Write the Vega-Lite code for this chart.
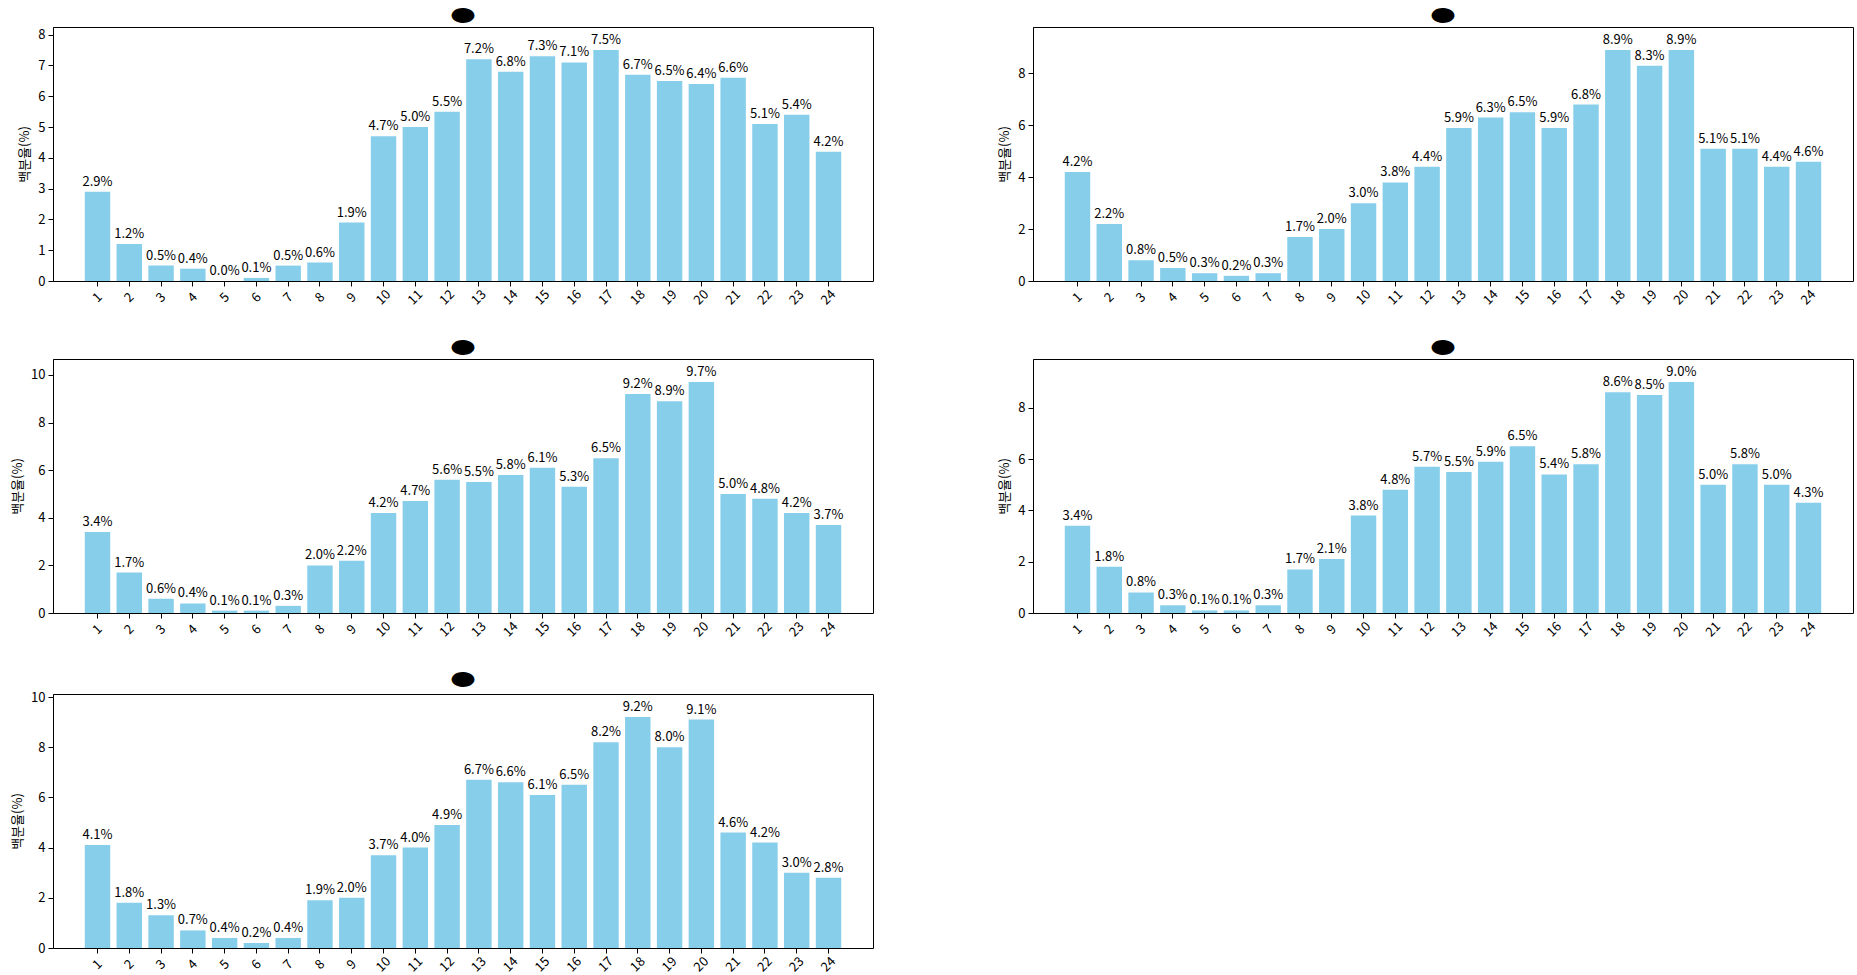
{
  "$schema": "https://vega.github.io/schema/vega-lite/v6.json",
  "padding": {"left": 11, "top": 2, "right": 0, "bottom": 0},
  "background": "white",
  "datasets": {
    "r1": [
      {"h": 1, "p": 0.029}, {"h": 2, "p": 0.012}, {"h": 3, "p": 0.005}, {"h": 4, "p": 0.004},
      {"h": 5, "p": 0.000}, {"h": 6, "p": 0.001}, {"h": 7, "p": 0.005}, {"h": 8, "p": 0.006},
      {"h": 9, "p": 0.019}, {"h": 10, "p": 0.047}, {"h": 11, "p": 0.050}, {"h": 12, "p": 0.055},
      {"h": 13, "p": 0.072}, {"h": 14, "p": 0.068}, {"h": 15, "p": 0.073}, {"h": 16, "p": 0.071},
      {"h": 17, "p": 0.075}, {"h": 18, "p": 0.067}, {"h": 19, "p": 0.065}, {"h": 20, "p": 0.064},
      {"h": 21, "p": 0.066}, {"h": 22, "p": 0.051}, {"h": 23, "p": 0.054}, {"h": 24, "p": 0.042}
    ],
    "r2": [
      {"h": 1, "p": 0.042}, {"h": 2, "p": 0.022}, {"h": 3, "p": 0.008}, {"h": 4, "p": 0.005},
      {"h": 5, "p": 0.003}, {"h": 6, "p": 0.002}, {"h": 7, "p": 0.003}, {"h": 8, "p": 0.017},
      {"h": 9, "p": 0.020}, {"h": 10, "p": 0.030}, {"h": 11, "p": 0.038}, {"h": 12, "p": 0.044},
      {"h": 13, "p": 0.059}, {"h": 14, "p": 0.063}, {"h": 15, "p": 0.065}, {"h": 16, "p": 0.059},
      {"h": 17, "p": 0.068}, {"h": 18, "p": 0.089}, {"h": 19, "p": 0.083}, {"h": 20, "p": 0.089},
      {"h": 21, "p": 0.051}, {"h": 22, "p": 0.051}, {"h": 23, "p": 0.044}, {"h": 24, "p": 0.046}
    ],
    "r3": [
      {"h": 1, "p": 0.034}, {"h": 2, "p": 0.017}, {"h": 3, "p": 0.006}, {"h": 4, "p": 0.004},
      {"h": 5, "p": 0.001}, {"h": 6, "p": 0.001}, {"h": 7, "p": 0.003}, {"h": 8, "p": 0.020},
      {"h": 9, "p": 0.022}, {"h": 10, "p": 0.042}, {"h": 11, "p": 0.047}, {"h": 12, "p": 0.056},
      {"h": 13, "p": 0.055}, {"h": 14, "p": 0.058}, {"h": 15, "p": 0.061}, {"h": 16, "p": 0.053},
      {"h": 17, "p": 0.065}, {"h": 18, "p": 0.092}, {"h": 19, "p": 0.089}, {"h": 20, "p": 0.097},
      {"h": 21, "p": 0.050}, {"h": 22, "p": 0.048}, {"h": 23, "p": 0.042}, {"h": 24, "p": 0.037}
    ],
    "r4": [
      {"h": 1, "p": 0.034}, {"h": 2, "p": 0.018}, {"h": 3, "p": 0.008}, {"h": 4, "p": 0.003},
      {"h": 5, "p": 0.001}, {"h": 6, "p": 0.001}, {"h": 7, "p": 0.003}, {"h": 8, "p": 0.017},
      {"h": 9, "p": 0.021}, {"h": 10, "p": 0.038}, {"h": 11, "p": 0.048}, {"h": 12, "p": 0.057},
      {"h": 13, "p": 0.055}, {"h": 14, "p": 0.059}, {"h": 15, "p": 0.065}, {"h": 16, "p": 0.054},
      {"h": 17, "p": 0.058}, {"h": 18, "p": 0.086}, {"h": 19, "p": 0.085}, {"h": 20, "p": 0.090},
      {"h": 21, "p": 0.050}, {"h": 22, "p": 0.058}, {"h": 23, "p": 0.050}, {"h": 24, "p": 0.043}
    ],
    "r5": [
      {"h": 1, "p": 0.041}, {"h": 2, "p": 0.018}, {"h": 3, "p": 0.013}, {"h": 4, "p": 0.007},
      {"h": 5, "p": 0.004}, {"h": 6, "p": 0.002}, {"h": 7, "p": 0.004}, {"h": 8, "p": 0.019},
      {"h": 9, "p": 0.020}, {"h": 10, "p": 0.037}, {"h": 11, "p": 0.040}, {"h": 12, "p": 0.049},
      {"h": 13, "p": 0.067}, {"h": 14, "p": 0.066}, {"h": 15, "p": 0.061}, {"h": 16, "p": 0.065},
      {"h": 17, "p": 0.082}, {"h": 18, "p": 0.092}, {"h": 19, "p": 0.080}, {"h": 20, "p": 0.091},
      {"h": 21, "p": 0.046}, {"h": 22, "p": 0.042}, {"h": 23, "p": 0.030}, {"h": 24, "p": 0.028}
    ]
  },
  "columns": 2,
  "spacing": {"row": 26, "column": 124},
  "concat": [
    {
      "width": 820, "height": 254,
      "data": {"name": "r1"},
      "title": {"text": "⬬"},
      "encoding": {
        "x": {"field": "h", "type": "ordinal", "scale": {"paddingInner": 0.2, "paddingOuter": 1.19}, "axis": {"title": null}},
        "y": {"field": "p", "type": "quantitative", "scale": {"domain": [0, 0.0825], "nice": false},
              "axis": {"title": "백분율(%)", "values": [0, 0.01, 0.02, 0.03, 0.04, 0.05, 0.06, 0.07, 0.08], "labelExpr": "format(datum.value*100, '.0f')"}}
      },
      "layer": [
        {"mark": {"type": "bar", "color": "#87CEEB"}},
        {"mark": {"type": "text", "baseline": "bottom", "dy": -3, "fontSize": 13, "color": "black"}, "encoding": {"text": {"field": "p", "format": ".1%"}}}
      ]
    },
    {
      "width": 820, "height": 254,
      "data": {"name": "r2"},
      "title": {"text": "⬬"},
      "encoding": {
        "x": {"field": "h", "type": "ordinal", "scale": {"paddingInner": 0.2, "paddingOuter": 1.19}, "axis": {"title": null}},
        "y": {"field": "p", "type": "quantitative", "scale": {"domain": [0, 0.0979], "nice": false},
              "axis": {"title": "백분율(%)", "values": [0, 0.02, 0.04, 0.06, 0.08], "labelExpr": "format(datum.value*100, '.0f')"}}
      },
      "layer": [
        {"mark": {"type": "bar", "color": "#87CEEB"}},
        {"mark": {"type": "text", "baseline": "bottom", "dy": -3, "fontSize": 13, "color": "black"}, "encoding": {"text": {"field": "p", "format": ".1%"}}}
      ]
    },
    {
      "width": 820, "height": 254,
      "data": {"name": "r3"},
      "title": {"text": "⬬"},
      "encoding": {
        "x": {"field": "h", "type": "ordinal", "scale": {"paddingInner": 0.2, "paddingOuter": 1.19}, "axis": {"title": null}},
        "y": {"field": "p", "type": "quantitative", "scale": {"domain": [0, 0.1067], "nice": false},
              "axis": {"title": "백분율(%)", "values": [0, 0.02, 0.04, 0.06, 0.08, 0.1], "labelExpr": "format(datum.value*100, '.0f')"}}
      },
      "layer": [
        {"mark": {"type": "bar", "color": "#87CEEB"}},
        {"mark": {"type": "text", "baseline": "bottom", "dy": -3, "fontSize": 13, "color": "black"}, "encoding": {"text": {"field": "p", "format": ".1%"}}}
      ]
    },
    {
      "width": 820, "height": 254,
      "data": {"name": "r4"},
      "title": {"text": "⬬"},
      "encoding": {
        "x": {"field": "h", "type": "ordinal", "scale": {"paddingInner": 0.2, "paddingOuter": 1.19}, "axis": {"title": null}},
        "y": {"field": "p", "type": "quantitative", "scale": {"domain": [0, 0.099], "nice": false},
              "axis": {"title": "백분율(%)", "values": [0, 0.02, 0.04, 0.06, 0.08], "labelExpr": "format(datum.value*100, '.0f')"}}
      },
      "layer": [
        {"mark": {"type": "bar", "color": "#87CEEB"}},
        {"mark": {"type": "text", "baseline": "bottom", "dy": -3, "fontSize": 13, "color": "black"}, "encoding": {"text": {"field": "p", "format": ".1%"}}}
      ]
    },
    {
      "width": 820, "height": 254,
      "data": {"name": "r5"},
      "title": {"text": "⬬"},
      "encoding": {
        "x": {"field": "h", "type": "ordinal", "scale": {"paddingInner": 0.2, "paddingOuter": 1.19}, "axis": {"title": null}},
        "y": {"field": "p", "type": "quantitative", "scale": {"domain": [0, 0.1012], "nice": false},
              "axis": {"title": "백분율(%)", "values": [0, 0.02, 0.04, 0.06, 0.08, 0.1], "labelExpr": "format(datum.value*100, '.0f')"}}
      },
      "layer": [
        {"mark": {"type": "bar", "color": "#87CEEB"}},
        {"mark": {"type": "text", "baseline": "bottom", "dy": -3, "fontSize": 13, "color": "black"}, "encoding": {"text": {"field": "p", "format": ".1%"}}}
      ]
    }
  ],
  "config": {
    "font": "Noto Sans CJK KR",
    "view": {"stroke": "black", "strokeWidth": 1},
    "title": {"fontSize": 28, "color": "black", "fontWeight": "normal", "font": "DejaVu Sans", "offset": -4},
    "axis": {
      "grid": false,
      "domainColor": "black",
      "tickColor": "black",
      "tickSize": 5,
      "labelColor": "black",
      "labelFontSize": 13,
      "titleColor": "black",
      "titleFontSize": 13,
      "titleFontWeight": "normal",
      "labelPadding": 3,
      "titlePadding": 6
    },
    "axisX": {"labelAngle": -45, "labelAlign": "center", "labelBaseline": "middle", "labelPadding": 11, "domain": false}
  }
}
